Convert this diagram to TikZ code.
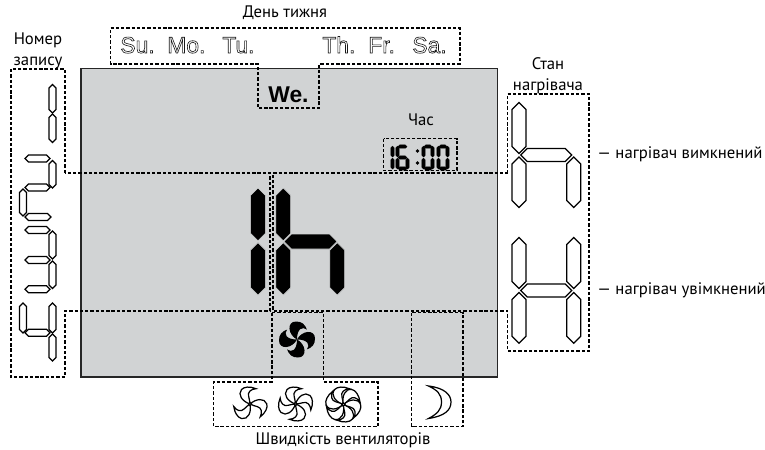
\documentclass[tikz,border=0pt]{standalone}
\usepackage{fontspec}
\setmainfont{PT Sans}
\newfontfamily\dayfont{Liberation Sans}
\newfontfamily\dayboldfont{Liberation Sans Bold}
\usetikzlibrary{positioning}
\definecolor{lcdgray}{HTML}{D1D3D4}
\tikzset{
  lcdpanel/.style={draw=black!85, line width=0.65pt, fill=lcdgray},
  zoneline/.style={draw=black, line width=0.62pt, dash pattern=on 1.9pt off 1.1pt},
  segoff/.style={draw=black, line width=0.7pt, fill=white},
  segon/.style={draw=lcdgray, line width=0.3pt, fill=black},
  segtime/.style={draw=black, line width=0.2pt, fill=black},
  lbl/.style={inner sep=0pt, font=\fontsize{9.5}{11.9}\selectfont, align=center},
  daylbl/.style={inner sep=0pt, anchor=base west, text=black!90, font=\dayfont\fontsize{13}{14}\selectfont},
  fanoff/.style={draw=black, line width=0.7pt, fill=white},
  fanon/.style={fill=black},
}
\newcommand{\segv}[5]{%
  \path[#1] (#2,#3) -- ({#2+#5},{#3+#5}) -- ({#2+#5},{#4-#5}) -- (#2,#4)
    -- ({#2-#5},{#4-#5}) -- ({#2-#5},{#3+#5}) -- cycle;
}
\newcommand{\segh}[5]{%
  \path[#1] (#3,#2) -- ({#3+#5},{#2-#5}) -- ({#4-#5},{#2-#5}) -- (#4,#2)
    -- ({#4-#5},{#2+#5}) -- ({#3+#5},{#2+#5}) -- cycle;
}
\newcommand{\outlined}[1]{\special{pdf:code 1 Tr 0.35 w}#1\special{pdf:code 0 Tr}}
\newcommand{\fan}[5]{%
  \begin{scope}[shift={(#2,#3)}]
    \foreach \a in {#5} {
      \path[#1, rotate=\a] (0,0) .. controls ({-0.45*#4},{-0.15*#4}) and ({-0.75*#4},{-0.55*#4}) .. ({-0.5*#4},{-0.85*#4})
        .. controls ({-0.35*#4},{-1.02*#4}) and (0,{-1.05*#4}) .. ({0.35*#4},{-0.9*#4})
        .. controls ({0.05*#4},{-0.88*#4}) and ({-0.15*#4},{-0.7*#4}) .. ({-0.08*#4},{-0.45*#4})
        .. controls ({-0.05*#4},{-0.3*#4}) and (0,{-0.15*#4}) .. (0,0) -- cycle;
    }
  \end{scope}
}
\newcommand{\fanlit}[4]{%
  \begin{scope}[shift={(#2,#3)}]
    \foreach \a in {0,90,180,270} {
      \path[#1, rotate=\a] (0,0) .. controls ({-0.5*#4},{-0.25*#4}) and ({-0.6*#4},{-#4}) .. ({-0.05*#4},{-#4})
        .. controls ({0.25*#4},{-#4}) and ({0.45*#4},{-0.85*#4}) .. ({0.55*#4},{-0.55*#4})
        .. controls ({0.3*#4},{-0.75*#4}) and (0,{-0.6*#4}) .. (0,0) -- cycle;
    }
  \end{scope}
}

\begin{document}
\begin{tikzpicture}[x=0.02cm, y=-0.02cm]
    \useasboundingbox (0,0) rectangle (765,450);
    \path[lcdpanel] (81,68.5) rectangle (497.5,377);

    \node[lbl] (daytitle) at (285,13) {День тижня};
    \node[lbl] (recordtitle) at (38,50.5) {Номер\\запису};
    \node[lbl] (heatertitle) at (548,76) {Стан\\нагрівача};
    \node[lbl] (timetitle) at (421,120) {Час};
    \node[lbl, anchor=west] (heateroff) at (597,154) {— нагрівач вимкнений};
    \node[lbl, anchor=west] (heateron) at (597,290) {— нагрівач увімкнений};
    \node[lbl] (fantitle) at (343,440) {Швидкість вентиляторів};

    \node[daylbl] (su) at (120,53) {\outlined{Su.}};
    \node[daylbl] (mo) at (167,53) {\outlined{Mo.}};
    \node[daylbl] (tu) at (222,53) {\outlined{Tu.}};
    \node[daylbl] (th) at (322,53) {\outlined{Th.}};
    \node[daylbl] (fr) at (368,53) {\outlined{Fr.}};
    \node[daylbl] (sa) at (412,53) {\outlined{Sa.}};
    \node[daylbl, text=black, font=\dayboldfont\fontsize{13}{14}\selectfont] (we) at (268,102) {We.};

    \draw[zoneline] (110.5,28) -- (460,28) -- (460,64) -- (319,64) -- (319,108) -- (258,108)
      -- (258,64) -- (110.5,64) -- cycle;
    \draw[zoneline] (65,173) -- (65,69) -- (11,69) -- (11,377) -- (65,377) -- (65,311)
      -- (270,311) -- (270,173) -- cycle;
    \draw[zoneline] (507.5,173) -- (507.5,94) -- (589,94) -- (589,351) -- (507.5,351)
      -- (507.5,311) -- (273,311) -- (273,173) -- cycle;
    \draw[zoneline] (383.5,138.5) rectangle (457,170.5);
    \draw[zoneline] (272,312.5) -- (323.5,312.5) -- (323.5,382) -- (378,382) -- (378,426.5)
      -- (213.5,426.5) -- (213.5,382) -- (272,382) -- cycle;
    \draw[zoneline] (411.5,312.5) rectangle (463,426.5);

    \foreach \x/\ya/\yb in {52.5/84.5/113, 52.5/114/142.5,
      52.5/160.5/188, 23/189/216, 52.5/231/259, 52.5/261/288.5,
      23/303/333, 52.5/303/333, 52.5/334/361} {
      \segv{segoff}{\x}{\ya}{\yb}{3.5}
    }
    \foreach \y/\xa/\xb in {158.5/25/50, 187.5/25/50, 217/25/51,
      230/25/50, 260/25/50, 289.3/25/50, 332.7/25/50} {
      \segh{segoff}{\y}{\xa}{\xb}{3.5}
    }

    \foreach \x/\ya/\yb in {258/188/240.7, 258/242.7/295, 283.3/188/240.7, 283.3/242.7/295, 337.3/242.7/295} {
      \segv{segon}{\x}{\ya}{\yb}{7.4}
    }
    \segh{segon}{241.5}{284}{337}{7.5}

    \foreach \x/\ya/\yb in {519/102.5/153.5, 519/157/207.5, 573.7/157/207.5,
      519/237.5/288.5, 519/292.5/343.3, 573.7/237.5/288.5, 573.7/292.5/343.3} {
      \segv{segoff}{\x}{\ya}{\yb}{7}
    }
    \segh{segoff}{155}{520.7}{571.7}{6.6}
    \segh{segoff}{290.5}{520.7}{571.7}{6.6}

    \foreach \x/\ya/\yb in {392.5/146/157, 392.5/158/169, 397.5/146/157, 397.5/158/169, 407.5/158/169,
      423.5/146/157, 423.5/158/169, 432.5/146/157, 432.5/158/169,
      438.5/146/157, 438.5/158/169, 447.5/146/157, 447.5/158/169} {
      \segv{segtime}{\x}{\ya}{\yb}{1.7}
    }
    \foreach \y/\xa/\xb in {146.5/398/407, 157.5/398/407, 168.5/398/407,
      146.5/424/432, 168.5/424/432, 146.5/439/447, 168.5/439/447} {
      \segh{segtime}{\y}{\xa}{\xb}{1.6}
    }
    \fill (417.5,151) circle (1.9) (417.5,163) circle (1.9);

    \fanlit{fanon}{297}{339.5}{18}
    \fan{fanoff}{250}{404}{17}{0,120,240}
    \fan{fanoff}{295.5}{404}{17}{0,90,180,270}
    \fan{fanoff}{343.3}{404.5}{17.5}{0,60,120,180,240,300}
    \foreach \x/\y in {250/404, 295.5/404, 343.3/404.5} {
      \draw[fanoff] (\x,\y) circle (1.6);
    }

    \draw[fanoff] (428.5,386) .. controls (445,388) and (451,395) .. (451,402)
      .. controls (451,410) and (445,416) .. (428.5,418.5)
      .. controls (437,414) and (441.5,410) .. (441.5,402)
      .. controls (441.5,394) and (437,390) .. (428.5,386) -- cycle;
\end{tikzpicture}
\end{document}
